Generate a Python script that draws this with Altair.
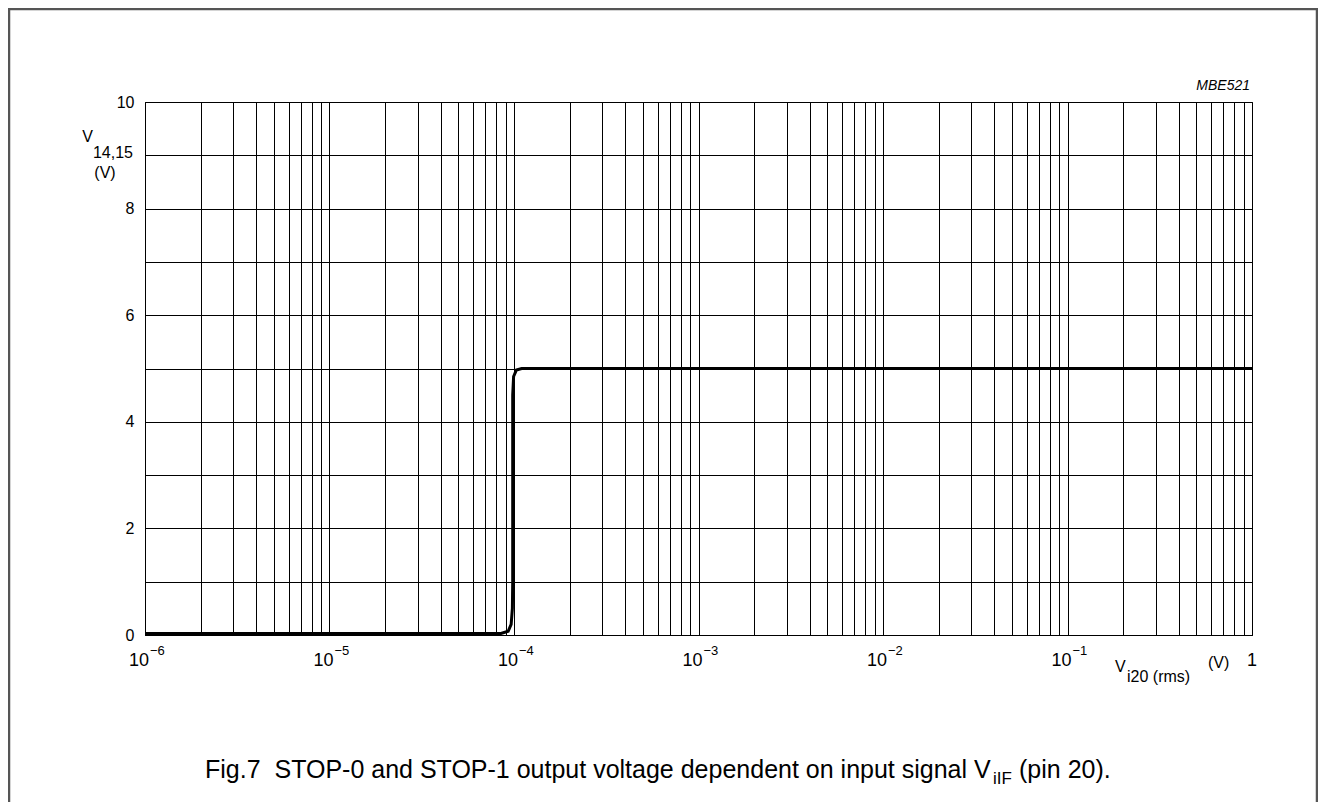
import altair as alt
import pandas as pd

# ---- data ----
curve_x = [1e-6, 8.5e-5, 9.3e-5, 9.65e-5, 9.8e-5, 9.84e-5, 9.84e-5, 9.95e-5, 1.03e-4, 1.1e-4, 1.0]
curve_y = [0.03, 0.03, 0.07, 0.2, 0.5, 1.0, 4.5, 4.85, 4.97, 5.0, 5.0]

decades = [1e-6, 1e-5, 1e-4, 1e-3, 1e-2, 1e-1]
exponents = ["\u22126", "\u22125", "\u22124", "\u22123", "\u22122", "\u22121"]
mantissas = [1, 2, 3, 4, 5, 6, 7, 8, 9]
x_grid = [m * d for d in decades for m in mantissas] + [1.0]
y_grid = [0, 1, 2, 3, 4, 5, 6, 7, 8, 9, 10]

W, H = 1107, 533
PL, PT = 137, 94
TOTAL_W, TOTAL_H = 1310, 794
FONT = "Liberation Sans"

xscale = alt.Scale(type="log", domain=[1e-6, 1], nice=False)
yscale = alt.Scale(domain=[0, 10], nice=False)

curve_df = pd.DataFrame({"x": curve_x, "y": curve_y})

base = alt.Chart(curve_df).mark_line(color="black", strokeWidth=3, clip=True).encode(
    x=alt.X("x:Q", scale=xscale,
            axis=alt.Axis(values=x_grid, grid=True, gridColor="black", gridWidth=1,
                          gridOpacity=1, labels=False, ticks=False, title=None,
                          domainColor="black", domainWidth=1)),
    y=alt.Y("y:Q", scale=yscale,
            axis=alt.Axis(values=y_grid, grid=True, gridColor="black", gridWidth=1,
                          gridOpacity=1, ticks=False, title=None,
                          labelExpr="datum.value % 2 == 0 ? datum.label : ''",
                          labelFont=FONT, labelFontSize=16, labelColor="black",
                          labelPadding=11, domainColor="black", domainWidth=1)),
)

dec_df = pd.DataFrame({"x": decades, "base": ["10"] * len(decades), "exp": exponents})
lab_base = alt.Chart(dec_df).mark_text(font=FONT, fontSize=18, align="right",
                                       baseline="alphabetic", dx=4, color="black").encode(
    x=alt.X("x:Q", scale=xscale), y=alt.value(564), text="base:N")
lab_exp = alt.Chart(dec_df).mark_text(font=FONT, fontSize=13, align="left",
                                      baseline="alphabetic", dx=5, color="black").encode(
    x=alt.X("x:Q", scale=xscale), y=alt.value(553), text="exp:N")
one_df = pd.DataFrame({"x": [1.0], "t": ["1"]})
lab_one = alt.Chart(one_df).mark_text(font=FONT, fontSize=18, align="center",
                                      baseline="alphabetic", color="black").encode(
    x=alt.X("x:Q", scale=xscale), y=alt.value(564), text="t:N")

def txt(s, x, y, size=16, align="left", italic=False):
    d = pd.DataFrame({"t": [s]})
    return alt.Chart(d).mark_text(font=FONT, fontSize=size, align=align,
                                  baseline="alphabetic", color="black",
                                  fontStyle="italic" if italic else "normal").encode(
        x=alt.value(x), y=alt.value(y), text="t:N")

annos = [
    # y-axis title V14,15 (V)
    txt("V", -52, 40, 16, "right"),
    txt("14,15", -12, 56, 16, "right"),
    txt("(V)", -40, 76, 16, "center"),
    # x-axis title
    txt("V", 970, 570, 16),
    txt("i20 (rms)", 982, 580, 16),
    txt("(V)", 1063, 566, 16),
    # figure code
    txt("MBE521", 1105, -12, 14, "right", True),
]

caption_main = "Fig.7\u00a0 STOP-0 and STOP-1 output voltage dependent on input signal V"
cap = [
    txt(caption_main, 60, 676, 25, "left"),
    txt("iIF", 848, 682, 17, "left"),
    txt("(pin 20).", 874, 676, 25, "left"),
]

border_df = pd.DataFrame({"k": [0]})
border = alt.Chart(border_df).mark_rect(fill=None, stroke="#555", strokeWidth=2.5).encode(
    x=alt.value(-PL + 1), x2=alt.value(TOTAL_W - PL - 1),
    y=alt.value(-PT + 1), y2=alt.value(TOTAL_H - PT + 20))

chart = alt.layer(base, lab_base, lab_exp, lab_one, *annos, *cap, border).properties(
    width=W, height=H,
    autosize=alt.AutoSizeParams(type="none"),
    padding={"left": PL, "top": PT, "right": TOTAL_W - PL - W, "bottom": TOTAL_H - PT - H},
    background="white",
).configure_view(stroke="black", strokeWidth=1)

chart.save("out.html", embed_options={"renderer": "svg", "actions": False})
